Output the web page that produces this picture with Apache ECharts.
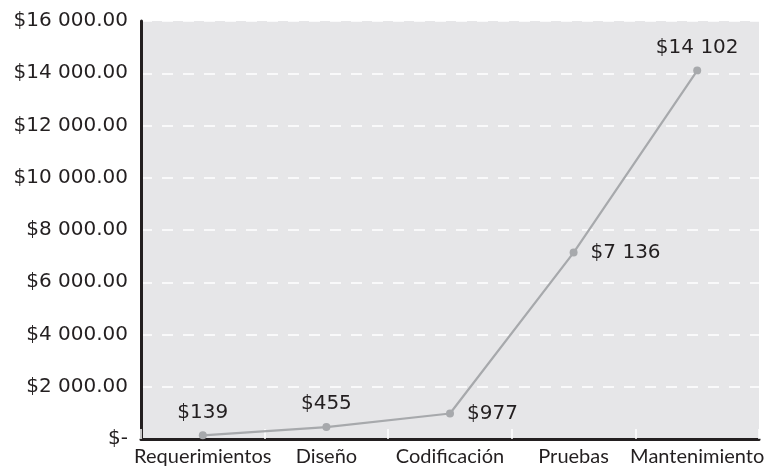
<!DOCTYPE html>
<html>
<head>
<meta charset="utf-8">
<script src="https://cdn.jsdelivr.net/npm/echarts@6/dist/echarts.min.js"></script>
<style>html,body{margin:0;padding:0;background:#fff;}#c{width:770px;height:470px;}</style>
</head>
<body>
<div id="c"></div>
<script>
var categories = ['Requerimientos', 'Diseño', 'Codificación', 'Pruebas', 'Mantenimiento'];
var costs = [139, 455, 977, 7136, 14102];
var labelPositions = ['top', 'top', 'right', 'right', 'top'];

function fmtThousands(v) {
  return String(Math.round(v)).replace(/\B(?=(\d{3})+(?!\d))/g, ' ');
}

var chart = echarts.init(document.getElementById('c'), null, {renderer: 'canvas'});
var textColor = '#231f20';
chart.setOption({
  animation: false,
  grid: {left: 141, right: 11, top: 21, bottom: 31, show: true, backgroundColor: '#e6e6e8', borderWidth: 0},
  xAxis: {
    type: 'category',
    data: categories,
    boundaryGap: true,
    axisLine: {lineStyle: {color: textColor, width: 3}},
    axisTick: {show: true, inside: true, length: 10, lineStyle: {color: '#ffffff', width: 1.5}},
    axisLabel: {color: textColor, fontFamily: 'Lato', fontSize: 20, margin: 8, interval: 0}
  },
  yAxis: {
    type: 'value',
    min: 0, max: 16000, interval: 2000,
    axisLine: {show: true, lineStyle: {color: textColor, width: 3}},
    axisTick: {show: false},
    splitLine: {show: true, lineStyle: {color: '#ffffff', width: 1.5, type: [11, 10]}},
    axisLabel: {
      color: textColor, fontFamily: 'DejaVu Sans', fontSize: 20, margin: 13,
      formatter: function (v) { return v === 0 ? '$-' : '$' + fmtThousands(v) + '.00'; }
    }
  },
  series: [{
    type: 'line',
    data: costs.map(function (v, i) {
      return {value: v, label: {position: labelPositions[i], distance: labelPositions[i] === 'top' ? 9 : 13}};
    }),
    symbol: 'circle',
    symbolSize: 8,
    lineStyle: {color: '#a7a9ac', width: 2.2},
    itemStyle: {color: '#a7a9ac'},
    label: {
      show: true, color: textColor, fontFamily: 'DejaVu Sans', fontSize: 20,
      formatter: function (p) { return '$' + fmtThousands(p.value); }
    }
  }]
});
</script>
</body>
</html>
